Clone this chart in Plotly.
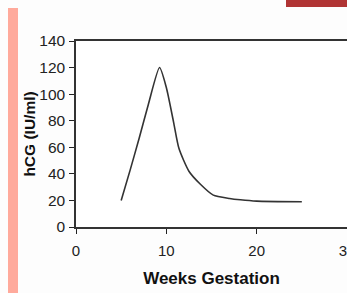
import plotly.graph_objects as go

# Data
weeks = [5, 6, 7, 8, 9.25, 10, 10.8, 11.4, 12.5, 13.8, 15.2, 17, 18.2, 20, 25]
hcg = [20, 43, 67, 92, 120, 105, 79, 59, 42, 32, 24, 21.5, 20.5, 19.5, 19]

x_ticks = [0, 10, 20, 30]
y_ticks = [0, 20, 40, 60, 80, 100, 120, 140]

W, H = 347, 293
L, R, T, B = 76, 0, 41, 66
pw, ph = W - L - R, H - T - B


def px(xp):
    return (xp - L) / pw


def py(yp):
    return (H - B - yp) / ph


fig = go.Figure()
fig.add_trace(go.Scatter(
    x=weeks, y=hcg, mode="lines",
    line=dict(color="#333333", width=1.6, shape="spline", smoothing=0.6),
    hoverinfo="skip", showlegend=False,
))

font_family = "Liberation Sans, Arial, sans-serif"

fig.update_layout(
    width=W, height=H,
    margin=dict(l=L, r=R, t=T, b=B, pad=0, autoexpand=False),
    paper_bgcolor="#fdfdfd",
    plot_bgcolor="#ffffff",
    font=dict(family=font_family, size=15, color="#222222"),
    xaxis=dict(
        range=[0, 30], tickvals=x_ticks, ticktext=[str(v) for v in x_ticks],
        ticks="outside", ticklen=5, tickcolor="#222", tickwidth=1.2,
        ticklabelstandoff=4, ticklabeloverflow="allow", automargin=False,
        showline=True, linecolor="#333", linewidth=1.5, mirror=True,
        showgrid=False, zeroline=False,
        tickfont=dict(size=15, color="#222"),
        title=dict(text="<b>Weeks Gestation</b>", font=dict(size=17, color="#111"), standoff=14),
    ),
    yaxis=dict(
        range=[0, 140], tickvals=y_ticks, ticktext=[str(v) for v in y_ticks],
        ticks="outside", ticklen=5, tickcolor="#222", tickwidth=1.2,
        ticklabelstandoff=1, automargin=False,
        showline=True, linecolor="#333", linewidth=1.5, mirror=True,
        showgrid=False, zeroline=False,
        tickfont=dict(size=15.5, color="#222"),
        title=dict(text="<b>hCG (IU/ml)</b>", font=dict(size=15.5, color="#111"), standoff=0),
    ),
    shapes=[
        dict(type="rect", xref="paper", yref="paper",
             x0=px(8), x1=px(18), y0=py(293), y1=py(8),
             fillcolor="#ffaa9c", line=dict(width=0), layer="below"),
        dict(type="rect", xref="paper", yref="paper",
             x0=px(286), x1=px(347), y0=py(7), y1=py(0),
             fillcolor="#b03434", line=dict(width=0), layer="below"),
    ],
)

fig.write_html(
    "out.html",
    config={"displayModeBar": False},
    post_script="document.body.style.margin='0';document.body.style.overflow='hidden';"
                "document.documentElement.style.overflow='hidden';",
)
